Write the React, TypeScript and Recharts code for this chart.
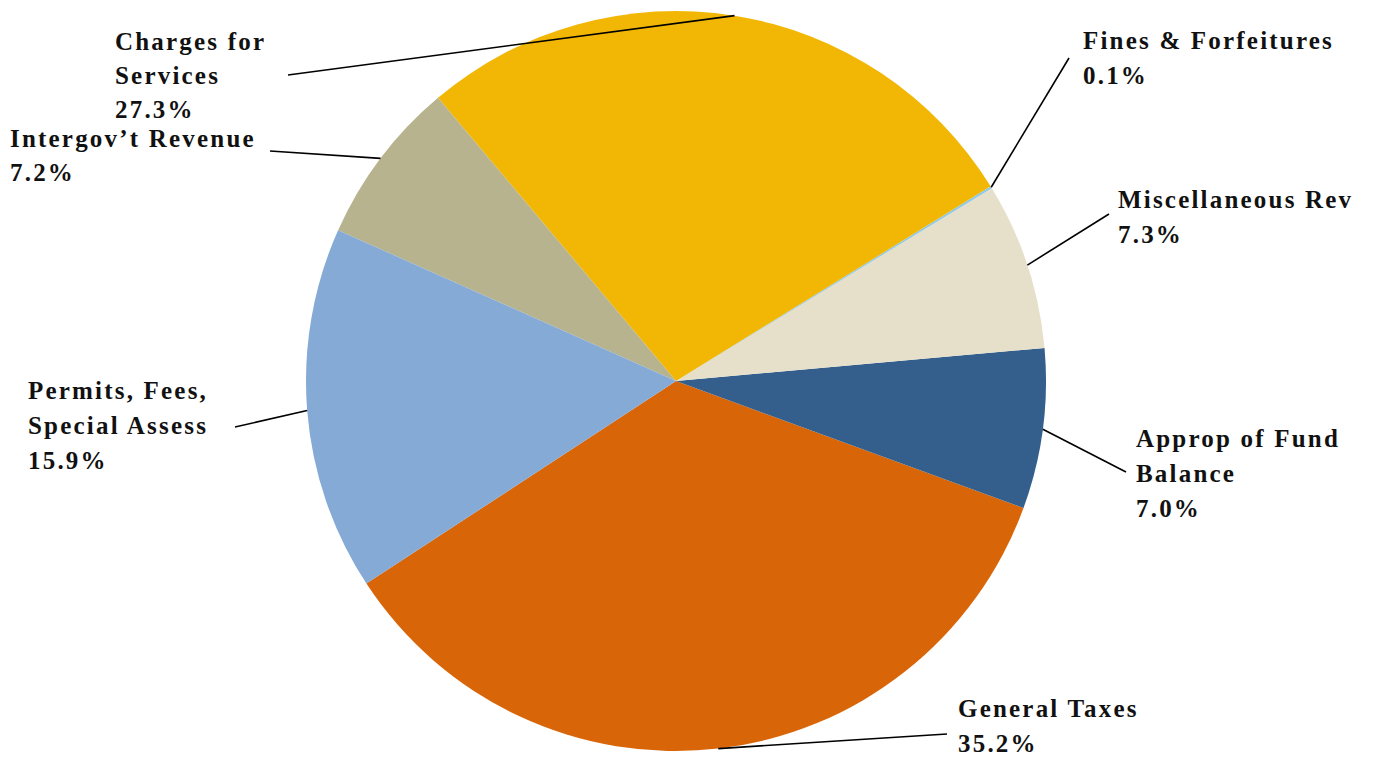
import React from "react";
import { PieChart, Pie, Cell } from "recharts";

const categories = [
  "General Taxes",
  "Approp of Fund\nBalance",
  "Miscellaneous Rev",
  "Fines & Forfeitures",
  "Charges for\nServices",
  "Intergov\u2019t Revenue",
  "Permits, Fees,\nSpecial Assess",
];
const values = [35.2, 7.0, 7.3, 0.1, 27.3, 7.2, 15.9];
const colors = ["#D86609", "#345F8C", "#E6E0CB", "#8FC9E8", "#F2B705", "#B8B38F", "#85AAD6"];

// label layout: text left x offset / first baseline offset / leader end offset (relative to pie centre)
const CX = 676;
const CY = 381;
const labelLayout = [
  { tx: 958 - CX, ty: 717 - CY, lx: 947 - CX, ly: 734 - CY, lh: 35 },
  { tx: 1136 - CX, ty: 447 - CY, lx: 1126 - CX, ly: 472 - CY, lh: 35 },
  { tx: 1118 - CX, ty: 208 - CY, lx: 1109 - CX, ly: 214 - CY, lh: 35 },
  { tx: 1083 - CX, ty: 49 - CY, lx: 1069 - CX, ly: 58 - CY, lh: 35 },
  { tx: 115 - CX, ty: 50 - CY, lx: 288 - CX, ly: 75 - CY, lh: 34 },
  { tx: 10 - CX, ty: 147 - CY, lx: 270 - CX, ly: 151 - CY, lh: 34 },
  { tx: 28 - CX, ty: 399 - CY, lx: 235 - CX, ly: 427 - CY, lh: 35 },
];

const data = categories.map((name, i) => ({ name, value: values[i] }));

const RAD = Math.PI / 180;

const renderLabel = (props: any) => {
  const { cx, cy, midAngle, outerRadius, index, value } = props;
  const lay = labelLayout[index];
  const sx = cx + outerRadius * Math.cos(-midAngle * RAD);
  const sy = cy + outerRadius * Math.sin(-midAngle * RAD);
  const lines = [...categories[index].split("\n"), value.toFixed(1) + "%"];
  return (
    <g>
      <line x1={sx} y1={sy} x2={cx + lay.lx} y2={cy + lay.ly} stroke="#000" strokeWidth={1.6} />
      {lines.map((t, k) => (
        <text
          key={k}
          x={cx + lay.tx}
          y={cy + lay.ty + k * lay.lh}
          fill="#111"
          fontFamily="'Liberation Serif', serif"
          fontWeight="bold"
          fontSize={25}
          letterSpacing={2.2}
          textAnchor="start"
        >
          {t}
        </text>
      ))}
    </g>
  );
};

export default function App() {
  return (
    <div style={{ position: "absolute", left: 0, top: 0, background: "#fff" }}>
      <PieChart width={1380} height={765} margin={{ top: 0, right: 0, bottom: 0, left: 0 }}>
        <Pie
          data={data}
          dataKey="value"
          nameKey="name"
          cx={CX}
          cy={CY}
          outerRadius={370}
          startAngle={213.2}
          endAngle={573.2}
          stroke="none"
          label={renderLabel}
          labelLine={false}
          isAnimationActive={false}
        >
          {data.map((d, i) => (
            <Cell key={d.name} fill={colors[i]} />
          ))}
        </Pie>
      </PieChart>
    </div>
  );
}
